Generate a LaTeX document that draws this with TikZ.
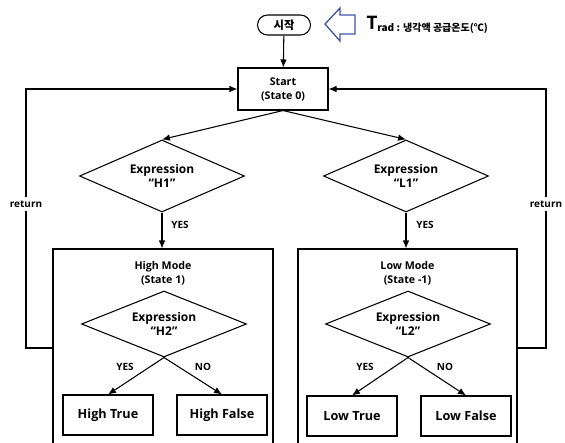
\documentclass[tikz,border=0pt]{standalone}
\usepackage{fontspec}
\setmainfont{Open Sans}
\newfontfamily\kr{Noto Sans CJK KR}
\usetikzlibrary{shapes.geometric, arrows.meta}
\definecolor{hollowblue}{RGB}{68,84,170}

\begin{document}
\begin{tikzpicture}[x=0.75pt, y=-0.75pt, >={Latex[length=6pt,width=5pt]}, line width=0.8pt, inner sep=1mm,
  box/.style={draw, rectangle, minimum width=67.5pt, minimum height=30pt, align=center, font=\bfseries\fontsize{9.5}{11}\selectfont},
  test/.style={draw, diamond, aspect=2.3, inner sep=0pt, minimum width=123.75pt, minimum height=54pt, align=center, font=\bfseries\fontsize{9}{10.5}\selectfont},
  mode/.style={draw, rectangle, minimum height=165pt},
  title/.style={align=center, font=\bfseries\fontsize{8}{10.5}\selectfont},
  lab/.style={font=\bfseries\fontsize{7.5}{9}\selectfont}]
\useasboundingbox (0,0) rectangle (565,443);
\clip (0,0) rectangle (565,443);
\node (begin) at (284,25) [draw, rounded corners=7.5pt, minimum width=39.75pt, minimum height=15pt, inner sep=0pt, font=\kr\bfseries\fontsize{8.5}{10}\selectfont] {시작};
\draw[hollowblue, line width=1pt] (325,24) -- (340,8) -- (340,15) -- (355,15) -- (355,34) -- (340,34) -- (340,41) -- cycle;
\node (trad) at (366,29) [anchor=base west, inner sep=0pt] {{\fontsize{14}{14}\selectfont\bfseries T}{\kr\bfseries\fontsize{7.5}{9}\selectfont\raisebox{-2pt}{rad : 냉각액 공급온도(℃)}}};
\node (start) at (283,89) [box, minimum height=31.5pt, font=\bfseries\fontsize{8}{10.5}\selectfont] {Start\\(State 0)};
\node (h1) at (162,176) [test] {Expression\\“H1”};
\node (l1) at (406,176) [test] {Expression\\“L1”};
\node (high) at (163,359) [mode, minimum width=165pt] {};
\node (low) at (407.5,359) [mode, minimum width=164.25pt] {};
\node (htitle) at (163,273) [title] {High Mode\\(State 1)};
\node (ltitle) at (407.5,273) [title] {Low Mode\\(State -1)};
\node (h2) at (164,324) [test, minimum height=49.5pt] {Expression\\“H2”};
\node (l2) at (408,324) [test, minimum height=49.5pt] {Expression\\“L2”};
\node (htrue) at (108,415) [box] {High True};
\node (hfalse) at (222,415) [box] {High False};
\node (ltrue) at (352,416) [box] {Low True};
\node (lfalse) at (466,416) [box] {Low False};
\coordinate (rl) at (26,348);
\coordinate (rr) at (546,348);
\draw[->] (begin) -- (start);
\draw[->] (start.south) -- (h1.north);
\draw[->] (start.south) -- (l1.north);
\draw[->] (h1.south) -- (h1.south |- high.north);
\draw[->] (l1.south) -- (l1.south |- low.north);
\draw[->] (h2.south) -- (htrue.north);
\draw[->] (h2.south) -- (hfalse.north);
\draw[->] (l2.south) -- (ltrue.north);
\draw[->] (l2.south) -- (lfalse.north);
\draw[->] (rl -| high.west) -- (rl) |- (start.west);
\draw[->] (rr -| low.east) -- (rr) |- (start.east);
\node (yes1) at (180,225) [lab] {YES};
\node (yes2) at (425,225) [lab] {YES};
\node (yes3) at (125,367) [lab] {YES};
\node (no3) at (203,367) [lab] {NO};
\node (yes4) at (365,367) [lab] {YES};
\node (no4) at (445,367) [lab] {NO};
\node (retl) at (26,204) [lab, fill=white, inner xsep=1pt] {return};
\node (retr) at (546,204) [lab, fill=white, inner xsep=1pt] {return};
\end{tikzpicture}
\end{document}
